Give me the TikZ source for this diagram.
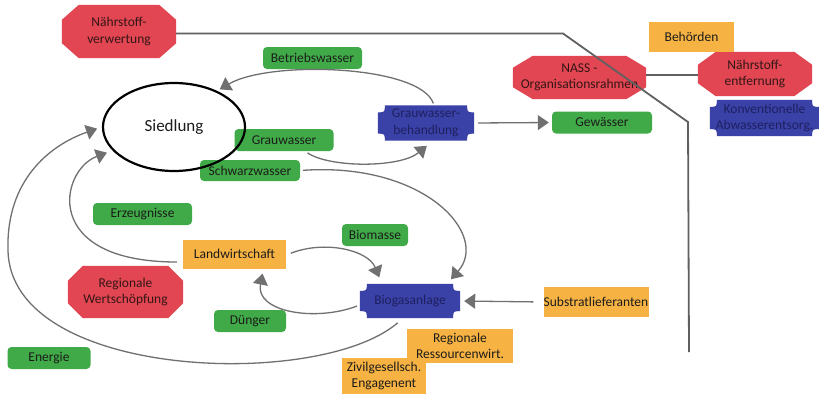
\documentclass[tikz,border=0pt]{standalone}
\usepackage{fontspec}
\setmainfont{Carlito}
\usetikzlibrary{arrows.meta,shapes.geometric,calc}
\pgfdeclarelayer{background}
\pgfsetlayers{background,main}

\definecolor{gfill}{RGB}{64,170,72}
\definecolor{ofill}{RGB}{246,178,66}
\definecolor{rfill}{RGB}{226,70,82}
\definecolor{bfill}{RGB}{58,66,168}
\definecolor{btxt}{RGB}{30,32,95}
\definecolor{dtxt}{RGB}{28,28,26}
\definecolor{rtxt}{RGB}{52,22,22}
\definecolor{flowgray}{RGB}{112,112,112}
\definecolor{framegray}{RGB}{96,96,96}

% octagon behind a node: #1 node, #2 horizontal chamfer, #3 vertical chamfer
\newcommand\octagonfill[3]{%
  \fill[rfill] let \p1=(#1.south west), \p2=(#1.north east) in
    (\x1+#2,\y1) -- (\x2-#2,\y1) -- (\x2,\y1+#3) -- (\x2,\y2-#3) --
    (\x2-#2,\y2) -- (\x1+#2,\y2) -- (\x1,\y2-#3) -- (\x1,\y1+#3) -- cycle;}

% box with concave (notched) corners behind a node: #1 node, #2 notch radius
\newcommand\notchfill[2]{%
  \fill[bfill] let \p1=(#1.south west), \p2=(#1.north east) in
    (\x1+#2,\y1) -- (\x2-#2,\y1) .. controls (\x2-#2,\y1+#2) .. (\x2,\y1+#2)
    -- (\x2,\y2-#2) .. controls (\x2-#2,\y2-#2) .. (\x2-#2,\y2)
    -- (\x1+#2,\y2) .. controls (\x1+#2,\y2-#2) .. (\x1,\y2-#2)
    -- (\x1,\y1+#2) .. controls (\x1+#2,\y1+#2) .. (\x1+#2,\y1) -- cycle;}

\tikzset{
  lbl/.style={font=\fontsize{13.5}{16.5}\selectfont, align=center, inner sep=0pt, text=dtxt},
  greenbox/.style={lbl, fill=gfill, rounded corners=4pt},
  orangebox/.style={lbl, fill=ofill},
  redbox/.style={lbl, text=rtxt},
  bluebox/.style={lbl, text=btxt},
  flow/.style={draw=flowgray, line width=1.3pt, -{Triangle[length=11pt,width=15pt]}},
  frame/.style={draw=framegray, line width=1.8pt},
  link/.style={draw=framegray, line width=1.2pt},
}

\begin{document}
\begin{tikzpicture}[x=1pt, y=-1pt]
\useasboundingbox (0,0) rectangle (819,394);
\begin{pgfonlayer}{background}
  \fill[white] (0,0) rectangle (819,394);
\end{pgfonlayer}

% red octagons
\node[redbox, minimum width=114pt, minimum height=53pt] (nv) at (119,31.5) {Nährstoff-\\verwertung};
\node[redbox, minimum width=133pt, minimum height=43pt] (nass) at (579.5,77.5) {NASS -\\Organisationsrahmen};
\node[redbox, minimum width=114pt, minimum height=44pt] (nen) at (755,74) {Nährstoff-\\entfernung};
\node[redbox, minimum width=115pt, minimum height=52pt] (rw) at (125.5,292) {Regionale\\Wertschöpfung};

% blue treatment units
\node[bluebox, minimum width=96pt, minimum height=35pt] (gwb) at (426,123) {Grauwasser-\\behandlung};
\node[bluebox, minimum width=109pt, minimum height=36pt] (konv) at (764.5,118) {Konventionelle\\Abwasserentsorg.};
\node[bluebox, minimum width=100pt, minimum height=34pt] (bga) at (410,301) {Biogasanlage};

% green flows
\node[greenbox, minimum width=99pt, minimum height=22pt] (betr) at (312.5,58) {Betriebswasser};
\node[greenbox, minimum width=99pt, minimum height=22pt] (grau) at (284,140) {Grauwasser};
\node[greenbox, minimum width=100pt, minimum height=21pt] (schw) at (250,170.5) {Schwarzwasser};
\node[greenbox, minimum width=100pt, minimum height=22pt] (gew) at (602,122.5) {Gewässer};
\node[greenbox, minimum width=99pt, minimum height=22pt] (erz) at (142.5,214) {Erzeugnisse};
\node[greenbox, minimum width=66pt, minimum height=22pt] (bio) at (375,235) {Biomasse};
\node[greenbox, minimum width=72pt, minimum height=22pt] (dueng) at (250,321) {Dünger};
\node[greenbox, minimum width=83pt, minimum height=22pt] (ener) at (49,358) {Energie};

% orange actors
\node[orangebox, minimum width=85pt, minimum height=30pt] (beh) at (691.5,37) {Behörden};
\node[orangebox, minimum width=103pt, minimum height=29pt] (lw) at (234.5,254) {Landwirtschaft};
\node[orangebox, minimum width=105pt, minimum height=30pt] (sub) at (596,302) {Substratlieferanten};
\node[orangebox, minimum width=106pt, minimum height=34pt] (rr) at (460,346) {Regionale\\Ressourcenwirt.};
\node[orangebox, minimum width=84pt, minimum height=36pt] (ziv) at (384,376) {Zivilgesellsch.\\Engagenent};

% settlement
\node[draw=black, line width=2.2pt, ellipse, minimum width=142pt, minimum height=88pt,
      inner sep=0pt, font=\fontsize{17}{19}\selectfont, text=dtxt] (sied) at (174,127) {Siedlung};

\begin{pgfonlayer}{background}
  \octagonfill{nv}{17pt}{15pt}
  \octagonfill{nass}{20pt}{12pt}
  \octagonfill{nen}{18pt}{13pt}
  \octagonfill{rw}{15pt}{15pt}
  \notchfill{gwb}{7pt}
  \notchfill{konv}{7pt}
  \notchfill{bga}{7pt}
\end{pgfonlayer}

% system boundary
\coordinate (fr1) at (563,33.5);
\coordinate (fr2) at (688,122);
\coordinate (fr3) at (689,352);
\draw[frame] (nv.east |- fr1) -- (fr1) -- (fr2) -- (fr3);
\draw[link] (nass.east |- 0,75) -- (nen.west |- 0,75);

% material flows
\draw[flow, shorten <=4pt, shorten >=3pt] (gwb.east) -- (gew.west);
\draw[flow, shorten <=10pt, shorten >=4pt] (sub.west) -- (bga.east);
\draw[flow, shorten <=2pt, shorten >=3pt] ([xshift=8pt]gwb.north) .. controls (420,65) and (270,60) .. (sied.40);
\draw[flow, shorten <=3pt, shorten >=8pt] ([xshift=21pt]grau.south) .. controls (330,168) and (400,168) .. ([xshift=7pt]gwb.south);
\draw[flow, shorten <=3pt, shorten >=6pt] (schw.east) .. controls (425,162) and (490,235) .. ([xshift=37pt]bga.north);
\draw[flow, shorten <=5pt, shorten >=7pt] ([yshift=-1pt]lw.east) .. controls (325,240) and (368,250) .. ([xshift=-28pt]bga.north);
\draw[flow, shorten <=3pt, shorten >=5pt] ([yshift=-4pt]bga.west) .. controls (315,322) and (255,312) .. ([xshift=29pt]lw.south);
\draw[flow, shorten <=6pt, shorten >=6pt] ([yshift=-8pt]lw.west) .. controls (40,262) and (60,170) .. (sied.201);
\draw[flow, shorten <=7pt, shorten >=5pt] ([xshift=-7pt]bga.south) .. controls (320,390) and (10,380) .. (8,250)
      .. controls (6,180) and (50,145) .. (sied.west);
\end{tikzpicture}
\end{document}
